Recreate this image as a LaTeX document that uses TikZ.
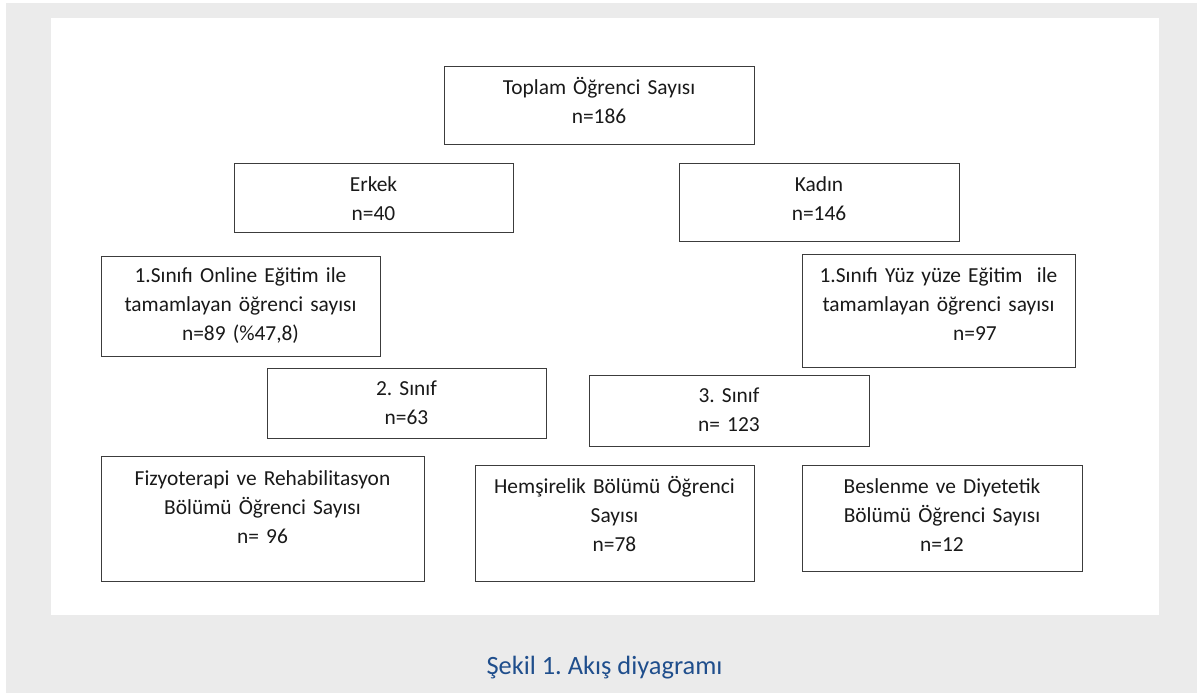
\documentclass[tikz,border=0pt]{standalone}
\usepackage{fontspec}
\setmainfont{Carlito}
\frenchspacing
\definecolor{bggray}{RGB}{235,235,235}
\definecolor{boxline}{RGB}{60,60,60}
\definecolor{txt}{RGB}{25,25,25}
\definecolor{capblue}{RGB}{31,78,140}
\tikzset{
  box/.style={draw=boxline, line width=0.7pt, fill=white, inner sep=0pt, anchor=north west},
  lbl/.style={anchor=base, align=center, inner sep=0pt, text=txt,
    font=\fontsize{10.7}{14.5}\selectfont},
}
\newcommand{\bx}[6]{% name, x1, y1, x2, y2
  \node[box, minimum width={(#4-#2)*0.5pt}, minimum height={(#5-#3)*0.5pt}] (#1) at (#2,#3) {};}
\begin{document}
\frenchspacing
\begin{tikzpicture}[x=0.5pt, y=-0.5pt]
\useasboundingbox (0,0) rectangle (1197,693);
\fill[white] (0,0) rectangle (1197,693);
\fill[bggray] (6,3) rectangle (1197,693);
\fill[white] (51,18) rectangle (1159,615);

\bx{top}{444}{66}{754}{144}{}
\bx{erkek}{234}{163}{513}{232}{}
\bx{kadin}{679}{163}{959}{241}{}
\bx{online}{101}{256}{380}{356}{}
\bx{yuz}{802}{254}{1075}{367}{}
\bx{sinif2}{267}{368}{546}{438}{}
\bx{sinif3}{589}{375}{869}{446}{}
\bx{fizyo}{101}{456}{424}{581}{}
\bx{hems}{475}{465}{754}{581}{}
\bx{besl}{802}{465}{1082}{571}{}

\node[lbl, text width=150pt] (topT) at (599,94) {Toplam Öğrenci Sayısı\\n=186};
\node[lbl, text width=135pt] (erkekT) at (373.5,191) {Erkek\\n=40};
\node[lbl, text width=135pt] (kadinT) at (819,191) {Kadın\\n=146};
\node[lbl, text width=135pt] (onlineT) at (240.5,282) {1.Sınıfı Online Eğitim ile\\tamamlayan öğrenci sayısı\\n=89 (\%47,8)};
\node[lbl, text width=135pt] (yuzT) at (938.5,282) {1.Sınıfı Yüz yüze Eğitim\ \ ile\\tamamlayan öğrenci sayısı\\\hspace*{36.5pt}n=97};
\node[lbl, text width=135pt] (sinif2T) at (406.5,395) {2. Sınıf\\n=63};
\node[lbl, text width=135pt] (sinif3T) at (729,402) {3. Sınıf\\n= 123};
\node[lbl, text width=160pt] (fizyoT) at (262.5,485) {Fizyoterapi ve Rehabilitasyon\\Bölümü Öğrenci Sayısı\\n= 96};
\node[lbl, text width=135pt] (hemsT) at (614.5,493) {Hemşirelik Bölümü Öğrenci\\Sayısı\\n=78};
\node[lbl, text width=135pt] (beslT) at (942,493) {Beslenme ve Diyetetik\\Bölümü Öğrenci Sayısı\\n=12};

\node[anchor=base, inner sep=0pt, text=capblue, font=\fontsize{13.2}{16}\selectfont] (caption) at (604.5,674) {Şekil 1. Akış diyagramı};
\end{tikzpicture}
\end{document}
